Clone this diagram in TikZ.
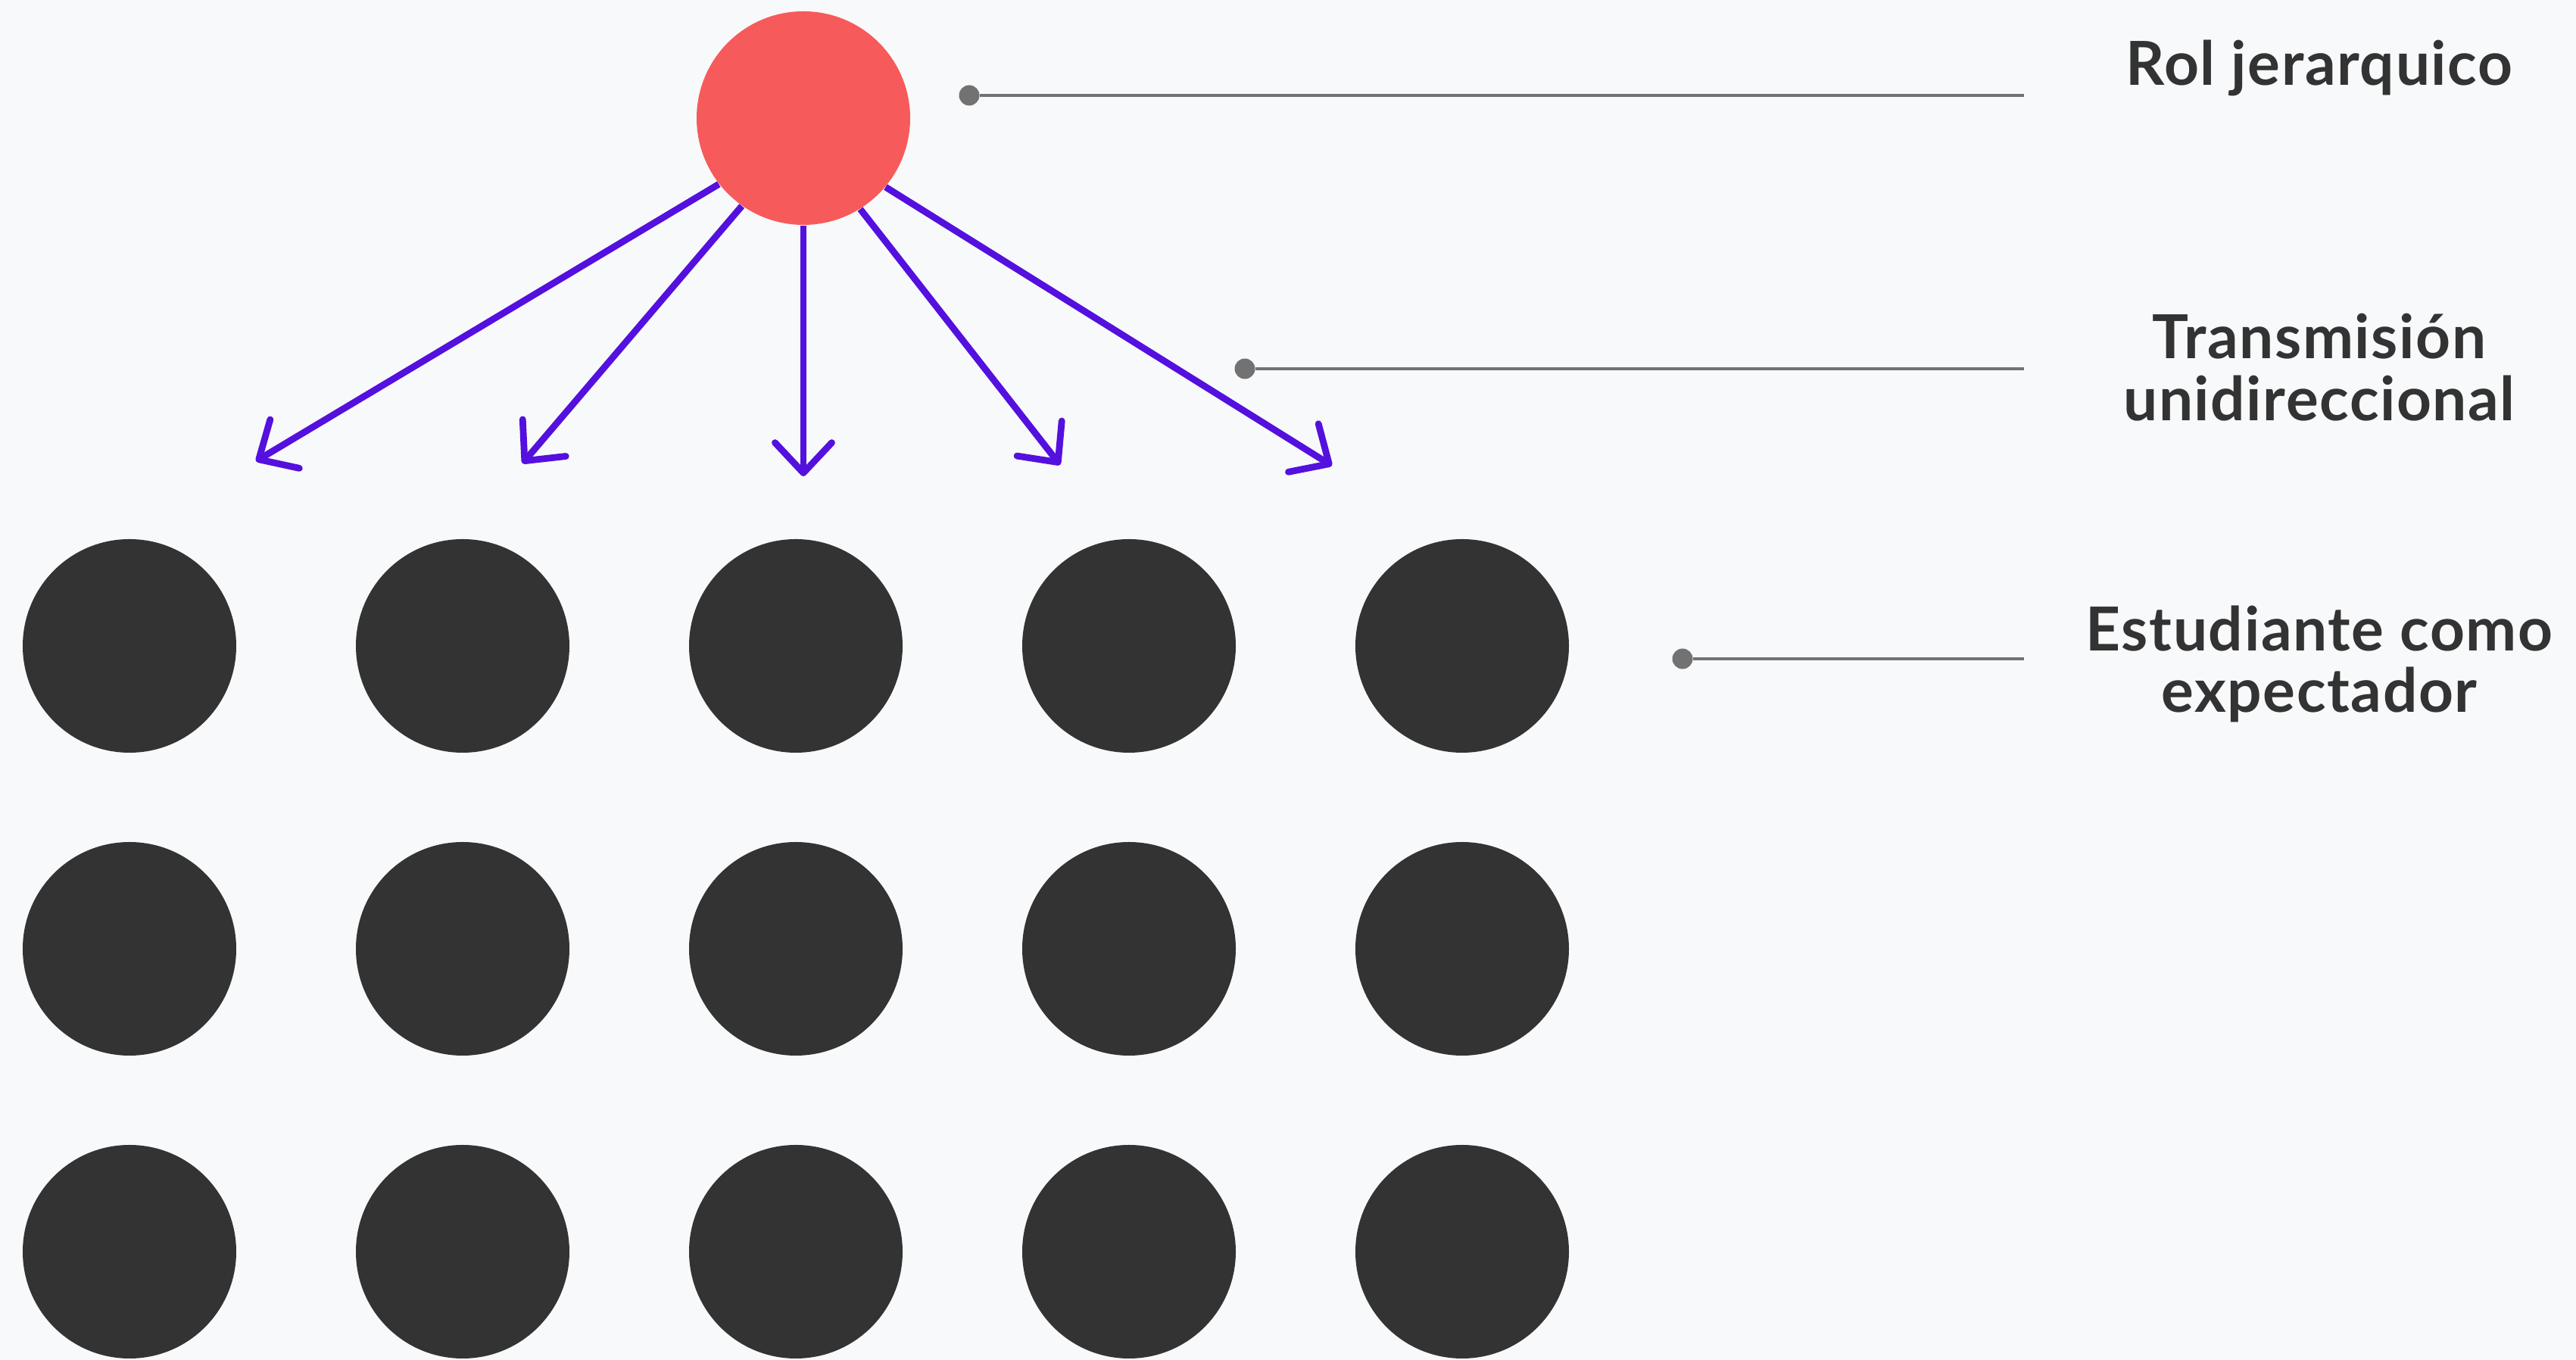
\documentclass[tikz,border=0pt]{standalone}
\usepackage{fontspec}
\setmainfont{Lato}[LetterSpace=2.0]
\usepackage{tikz}
\usetikzlibrary{positioning,arrows.meta}
\definecolor{fondo}{RGB}{248,249,250}
\definecolor{rojo}{RGB}{247,90,90}
\definecolor{oscuro}{RGB}{51,51,51}
\definecolor{violeta}{RGB}{84,16,222}
\definecolor{guia}{RGB}{114,114,114}
\tikzset{
    jefe/.style = {
        fill=rojo,
        shape=circle,
        minimum size=2.82cm,
        inner sep=0pt
    },
    alumno/.style = {
        fill=oscuro,
        shape=circle,
        minimum size=2.82cm,
        inner sep=0pt
    },
    punto/.style = {
        fill=guia,
        shape=circle,
        minimum size=0.27cm,
        inner sep=0pt
    },
    rotulo/.style = {
        text=oscuro,
        align=center,
        inner sep=0pt,
        font={\fontsize{22.8}{23.3}\selectfont\bfseries}
    },
    >={Straight Barb[length=0.4cm,width=0.75cm,round]},
}
\begin{document}
\begin{tikzpicture}
                \useasboundingbox[fill=fondo] (0,0) rectangle (34.02,17.96);

                \node[jefe] (rol) at (10.61,16.40) {};

                \node[alumno] (a11) at (1.71,9.43) {};
                \node[alumno] (a12) at (6.11,9.43) {};
                \node[alumno] (a13) at (10.51,9.43) {};
                \node[alumno] (a14) at (14.91,9.43) {};
                \node[alumno] (a15) at (19.31,9.43) {};
                \node[alumno] (a21) at (1.71,5.43) {};
                \node[alumno] (a22) at (6.11,5.43) {};
                \node[alumno] (a23) at (10.51,5.43) {};
                \node[alumno] (a24) at (14.91,5.43) {};
                \node[alumno] (a25) at (19.31,5.43) {};
                \node[alumno] (a31) at (1.71,1.43) {};
                \node[alumno] (a32) at (6.11,1.43) {};
                \node[alumno] (a33) at (10.51,1.43) {};
                \node[alumno] (a34) at (14.91,1.43) {};
                \node[alumno] (a35) at (19.31,1.43) {};

                % puntas de las flechas
                \coordinate (t1) at (3.38,11.87);
                \coordinate (t2) at (6.90,11.84);
                \coordinate (t3) at (10.61,11.67);
                \coordinate (t4) at (14.00,11.82);
                \coordinate (t5) at (17.59,11.81);

                \path[draw=violeta, line width=2.5pt, ->] (rol.218) -- (t1);
                \path[draw=violeta, line width=2.5pt, ->] (rol.235) -- (t2);
                \path[draw=violeta, line width=2.5pt, ->] (rol.270) -- (t3);
                \path[draw=violeta, line width=2.5pt, ->] (rol.302) -- (t4);
                \path[draw=violeta, line width=2.5pt, ->] (rol.320) -- (t5);

                \node[punto] (p1) at (12.80,16.70) {};
                \node[punto] (p2) at (16.44,13.09) {};
                \node[punto] (p3) at (22.22,9.26) {};
                \coordinate (e1) at (26.73,16.70);
                \coordinate (e2) at (26.73,13.09);
                \coordinate (e3) at (26.73,9.26);
                \path[draw=guia, line width=1pt] (p1) -- (e1);
                \path[draw=guia, line width=1pt] (p2) -- (e2);
                \path[draw=guia, line width=1pt] (p3) -- (e3);

                \node[rotulo, anchor=base] (r1) at (30.63,16.83) {Rol jerarquico};
                \node[rotulo] (r2) at (30.63,13.11) {Transmisión\\unidireccional};
                \node[rotulo] (r3) at (30.63,9.19) {Estudiante como\\expectador};
            \end{tikzpicture}
\end{document}
